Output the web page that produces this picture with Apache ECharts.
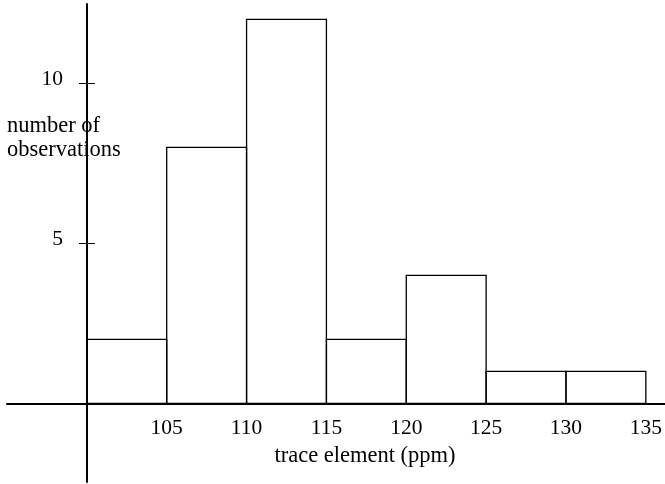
<!DOCTYPE html>
<html>
<head>
<meta charset="utf-8">
<script src="https://cdn.jsdelivr.net/npm/echarts@6/dist/echarts.min.js"></script>
<style>
html,body{margin:0;padding:0;background:#fff;}
#c{width:665px;height:484px;}
</style>
</head>
<body>
<div id="c"></div>
<script>
var binStarts = [100, 105, 110, 115, 120, 125, 130];
var binEnds   = [105, 110, 115, 120, 125, 130, 135];
var counts    = [2, 8, 12, 2, 4, 1, 1];
var xTickLabels = [105, 110, 115, 120, 125, 130, 135];
var yTickLabels = [5, 10];
var xTitle = 'trace element (ppm)';
var yTitle = 'number of\nobservations';

var FONT = '"Liberation Serif", "DejaVu Serif", serif';
var data = binStarts.map(function (s, i) { return [s, binEnds[i], counts[i]]; });

var chart = echarts.init(document.getElementById('c'), null, {renderer: 'canvas'});
chart.setOption({
  animation: false,
  backgroundColor: '#fff',
  title: {
    text: yTitle,
    left: 7,
    top: 114,
    padding: 0,
    textStyle: {fontFamily: FONT, fontSize: 22.5, fontWeight: 'normal', color: '#000', lineHeight: 24}
  },
  grid: {left: 7, right: 0, top: 4, bottom: 2, containLabel: false, outerBoundsMode: 'none'},
  xAxis: {
    type: 'value',
    min: 95,
    max: 136.2,
    position: 'bottom',
    offset: -78.6,
    axisLine: {onZero: false, lineStyle: {color: '#000', width: 2}},
    axisTick: {show: false},
    splitLine: {show: false},
    axisLabel: {
      customValues: xTickLabels,
      margin: 13.5,
      fontFamily: FONT, fontSize: 21.5, color: '#000'
    },
    name: xTitle,
    nameLocation: 'middle',
    nameGap: 41,
    nameTextStyle: {fontFamily: FONT, fontSize: 22.5, color: '#000', padding: [0, 0, 0, 58]}
  },
  yAxis: [{
    type: 'value',
    min: -2.46,
    max: 12.48,
    position: 'left',
    offset: -80,
    axisLine: {show: true, onZero: false, lineStyle: {color: '#000', width: 2}},
    axisTick: {show: true, customValues: yTickLabels, length: 8, lineStyle: {color: '#000', width: 1}},
    splitLine: {show: false},
    axisLabel: {
      customValues: yTickLabels,
      margin: 24,
      verticalAlign: 'bottom',
      lineHeight: 7,
      fontFamily: FONT, fontSize: 21.5, color: '#000'
    }
  }, {
    type: 'value',
    min: -2.46,
    max: 12.48,
    position: 'left',
    offset: -80,
    axisLine: {show: false, onZero: false},
    axisTick: {show: true, inside: true, customValues: yTickLabels, length: 8, lineStyle: {color: '#000', width: 1}},
    splitLine: {show: false},
    axisLabel: {show: false}
  }],
  series: [{
    type: 'custom',
    xAxisIndex: 0,
    yAxisIndex: 0,
    data: data,
    renderItem: function (params, api) {
      var p0 = api.coord([api.value(0), api.value(2)]);
      var p1 = api.coord([api.value(1), 0]);
      return {
        type: 'rect',
        shape: {x: p0[0], y: p0[1], width: p1[0] - p0[0], height: p1[1] - p0[1]},
        style: {fill: 'rgba(255,255,255,0)', stroke: '#000', lineWidth: 1.3}
      };
    }
  }]
});
</script>
</body>
</html>
